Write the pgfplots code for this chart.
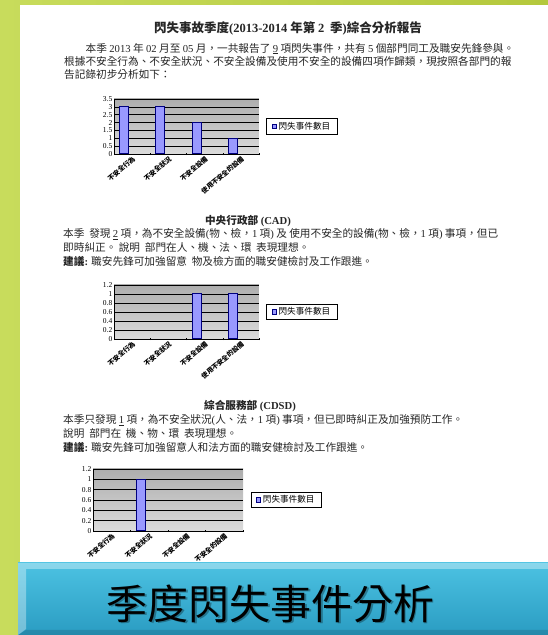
\documentclass[border=0pt]{standalone}
\usepackage{fontspec}
\setmainfont{Liberation Serif}
\newfontfamily\cjk{Noto Sans CJK TC}
\usepackage{pgfplots}
\pgfplotsset{compat=1.18}

\definecolor{barfill}{HTML}{9999FF}
\definecolor{barline}{HTML}{000080}
\definecolor{bgA}{HTML}{C8DC5C}
\definecolor{bgB}{HTML}{B4C83C}
\definecolor{banA}{HTML}{4CC2E2}
\definecolor{banB}{HTML}{2A9CC2}

\newcommand\lt[1]{{\rmfamily #1}}

\pgfplotsset{
  nmchart/.style={
    scale only axis,
    ybar, bar width=9pt, bar shift=-8pt,
    xmin=-0.5, xmax=3.5, ymin=0,
    xtick={0,1,2,3},
    major x tick style={draw=none},
    minor xtick={-0.5,0.5,1.5,2.5,3.5},
    minor x tick style={black, thin},
    minor tick length=2.5pt,
    major tick length=0pt,
    tick align=outside,
    axis lines=left,
    axis line style={-, black, line width=0.6pt},
    axis background/.style={top color=gray!64, bottom color=gray!28},
    ymajorgrids, grid style={black, line width=0.5pt},
    xticklabel style={font=\cjk\bfseries\fontsize{6.6}{7}\selectfont,
      rotate=40, anchor=north east, inner sep=1pt},
    yticklabel style={font=\rmfamily\fontsize{7.5}{7.5}\selectfont, inner sep=1.5pt},
    /pgf/number format/assume math mode=true,
    y filter/.expression={y==0 ? nan : y},
    legend style={at={(1.05,0.5)}, anchor=west, draw=black, line width=0.8pt,
      font=\cjk\fontsize{8.6}{9.5}\selectfont, inner xsep=5pt, inner ysep=1.5pt},
    legend image code/.code={
      \draw[fill=barfill, draw=barline, line width=0.6pt] (0pt,-2.2pt) rectangle (4.4pt,2.2pt);},
  },
  nmbar/.style={fill=barfill, draw=barline, line width=1pt},
}

\begin{document}
\begin{tikzpicture}
\useasboundingbox (0,0) rectangle (548pt,635pt);
% background and page
\shade[left color=bgA, right color=bgB] (0,0) rectangle (548pt,635pt);
\fill[white] (20pt,72pt) rectangle (548pt,630pt);

% report text
\begin{scope}[every node/.style={inner sep=0pt, text=black!85,
    font=\cjk\fontsize{10.65}{12}\selectfont}]
\node[font=\cjk\bfseries\fontsize{12.5}{13}\selectfont] at (288pt,606.7pt)
  {閃失事故季度\lt{(2013-2014} 年第 \lt{2}\ \ 季\lt{)}綜合分析報告};
\node[anchor=west] at (85.5pt,586.4pt)
  {本季 \lt{2013} 年 \lt{02} 月至 \lt{05} 月，一共報告了 \underline{\lt{9}} 項閃失事件，共有 \lt{5} 個部門同工及職安先鋒參與。};
\node[anchor=west] at (64pt,573.1pt)
  {根據不安全行為、不安全狀況、不安全設備及使用不安全的設備四項作歸類，現按照各部門的報};
\node[anchor=west] at (64pt,560.1pt) {告記錄初步分析如下：};

\node[font=\cjk\bfseries\fontsize{10.65}{12}\selectfont] at (248pt,414.4pt)
  {中央行政部 \lt{(CAD)}};
\node[anchor=west] at (63pt,401pt)
  {本季\ \ 發現 \underline{\lt{2}} 項，為不安全設備\lt{(}物、檢，\lt{1} 項\lt{)} 及 使用不安全的設備\lt{(}物、檢，\lt{1} 項\lt{)} 事項，但已};
\node[anchor=west] at (63pt,387.2pt)
  {即時糾正。 說明\ \ 部門在人、機、法、環\ \ 表現理想。};
\node[anchor=west] at (63pt,374pt)
  {{\bfseries 建議\lt{:}} 職安先鋒可加強留意\ \ 物及檢方面的職安健檢討及工作跟進。};

\node[font=\cjk\bfseries\fontsize{10.65}{12}\selectfont] at (250pt,229pt)
  {綜合服務部 \lt{(CDSD)}};
\node[anchor=west] at (63pt,214.8pt)
  {本季只發現 \underline{\lt{1}} 項，為不安全狀況\lt{(}人、法，\lt{1} 項\lt{)} 事項，但已即時糾正及加強預防工作。};
\node[anchor=west] at (63pt,201.4pt)
  {說明\ \ 部門在\ \ 機、物、環\ \ 表現理想。};
\node[anchor=west] at (63pt,187.6pt)
  {{\bfseries 建議\lt{:}} 職安先鋒可加強留意人和法方面的職安健檢討及工作跟進。};
\end{scope}

% chart 1: all departments
\begin{axis}[nmchart, at={(114pt,481pt)}, anchor=south west,
    width=145pt, height=55pt, ymax=3.5, ytick={0,0.5,...,3.5},
    xticklabels={不安全行為,不安全狀況,不安全設備,使用不安全的設備}]
  \addplot[nmbar] coordinates {(0,3) (1,3) (2,2) (3,1)};
  \addlegendentry{閃失事件數目}
\end{axis}

% chart 2: CAD
\begin{axis}[nmchart, at={(114pt,296pt)}, anchor=south west,
    width=145pt, height=54pt, ymax=1.2, ytick={0,0.2,0.4,0.6,0.8,1,1.2},
    xticklabels={不安全行為,不安全狀況,不安全設備,使用不安全的設備}]
  \addplot[nmbar] coordinates {(0,0) (1,0) (2,1) (3,1)};
  \addlegendentry{閃失事件數目}
\end{axis}

% chart 3: CDSD
\begin{axis}[nmchart, at={(93pt,104pt)}, anchor=south west,
    width=150pt, height=62pt, ymax=1.2, ytick={0,0.2,0.4,0.6,0.8,1,1.2},
    xticklabels={不安全行為,不安全狀況,不安全設備,不安全的設備}]
  \addplot[nmbar] coordinates {(0,0) (1,1) (2,0) (3,0)};
  \addlegendentry{閃失事件數目}
\end{axis}

% banner
\shade[top color=banA, bottom color=banB] (18pt,0) rectangle (548pt,72pt);
\fill[white, opacity=0.35] (18pt,72pt) -- (548pt,72pt) -- (548pt,66pt) -- (26pt,66pt) -- (26pt,6pt) -- (18pt,0) -- cycle;
\fill[black, opacity=0.12] (18pt,0) -- (548pt,0) -- (548pt,5pt) -- (26pt,5pt) -- cycle;
\node[font=\cjk\fontsize{41}{41}\selectfont, text=black, opacity=0.3] at (272pt,30.5pt) {季度閃失事件分析};
\node[font=\cjk\fontsize{41}{41}\selectfont, text=black] at (270.5pt,31.5pt) {季度閃失事件分析};
\end{tikzpicture}
\end{document}
